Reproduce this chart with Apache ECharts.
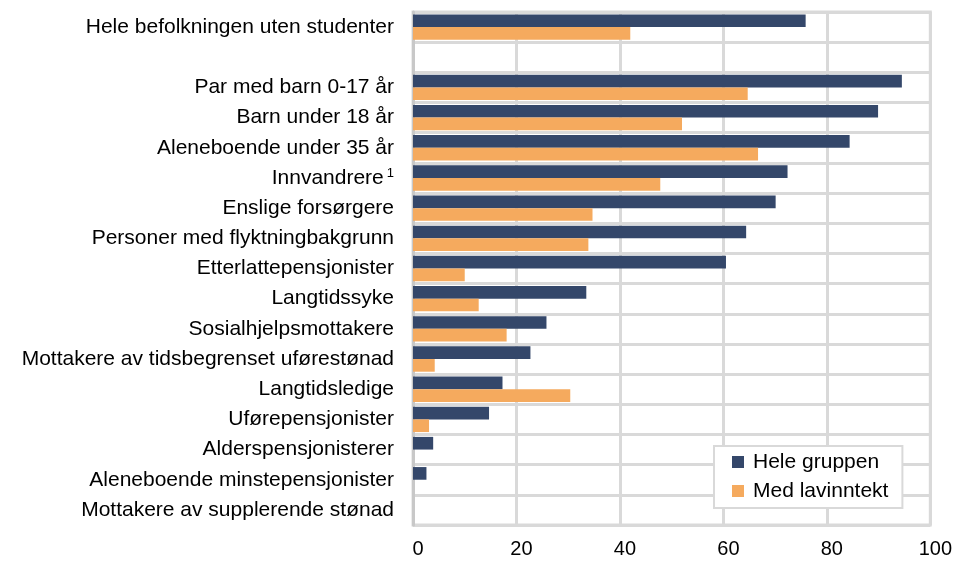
<!DOCTYPE html>
<html>
<head>
<meta charset="utf-8">
<script src="https://cdn.jsdelivr.net/npm/echarts@6/dist/echarts.min.js"></script>
<style>
    html, body { margin: 0; padding: 0; background: #fff; }
    #chart { width: 955px; height: 563px; }
</style>
</head>
<body>
<div id="chart"></div>
<script>
var categories = [
    'Hele befolkningen uten studenter',
    '',
    'Par med barn 0-17 år',
    'Barn under 18 år',
    'Aleneboende under 35 år',
    'Innvandrere',
    'Enslige forsørgere',
    'Personer med flyktningbakgrunn',
    'Etterlattepensjonister',
    'Langtidssyke',
    'Sosialhjelpsmottakere',
    'Mottakere av tidsbegrenset uførestønad',
    'Langtidsledige',
    'Uførepensjonister',
    'Alderspensjonisterer',
    'Aleneboende minstepensjonister',
    'Mottakere av supplerende stønad'
];
var heleGruppen = [75.9, null, 94.5, 89.9, 84.4, 72.4, 70.1, 64.4, 60.5, 33.5, 25.8, 22.7, 17.3, 14.7, 3.9, 2.6, 0];
var medLavinntekt = [42.0, null, 64.7, 52.0, 66.7, 47.8, 34.7, 33.9, 10.0, 12.7, 18.1, 4.2, 30.4, 3.1, 0, 0, 0];
var xTicks = [0, 20, 40, 60, 80, 100];
var footnoted = {'Innvandrere': '1'};

var myChart = echarts.init(document.getElementById('chart'));
var gridGray = '#d9d9d9';

var option = {
    animation: false,
    textStyle: {fontFamily: 'Liberation Sans, Arial, sans-serif'},
    grid: {
        left: 413,
        right: 23,
        top: 12,
        bottom: 38,
        show: true,
        borderColor: gridGray,
        borderWidth: 3
    },
    legend: {
        orient: 'vertical',
        left: 714,
        top: 446,
        backgroundColor: '#fff',
        borderColor: gridGray,
        borderWidth: 2,
        padding: [5, 14, 6, 18],
        itemGap: 7,
        itemWidth: 12,
        itemHeight: 12,
        icon: 'rect',
        textStyle: {fontSize: 21, lineHeight: 22, color: '#000', padding: [0, 0, 0, 4]},
        data: ['Hele gruppen', 'Med lavinntekt']
    },
    xAxis: {
        type: 'value',
        min: xTicks[0],
        max: xTicks[xTicks.length - 1],
        interval: 20,
        axisLine: {show: false},
        axisTick: {show: false},
        axisLabel: {
            fontSize: 20,
            color: '#000',
            margin: 14,
            padding: [0, 0, 0, 10]
        },
        splitLine: {lineStyle: {color: gridGray, width: 3}}
    },
    yAxis: {
        type: 'category',
        inverse: true,
        data: categories,
        axisLine: {show: true, lineStyle: {color: '#c8c8c8', width: 3}},
        axisTick: {show: false},
        axisLabel: {
            interval: 0,
            fontSize: 21,
            color: '#000',
            margin: 19,
            formatter: function (value) {
                if (footnoted[value]) {
                    return value + '{sup|' + footnoted[value] + '}';
                }
                return value;
            },
            rich: {
                sup: {fontSize: 13, color: '#000', padding: [0, 0, 10, 3]}
            }
        },
        splitLine: {show: true, interval: 0, lineStyle: {color: gridGray, width: 3}}
    },
    series: [
        {
            name: 'Hele gruppen',
            type: 'bar',
            data: heleGruppen,
            barGap: '0%',
            barCategoryGap: '16%',
            itemStyle: {color: '#34476a'}
        },
        {
            name: 'Med lavinntekt',
            type: 'bar',
            data: medLavinntekt,
            itemStyle: {color: '#f5aa5e'}
        }
    ]
};
myChart.setOption(option);
</script>
</body>
</html>
